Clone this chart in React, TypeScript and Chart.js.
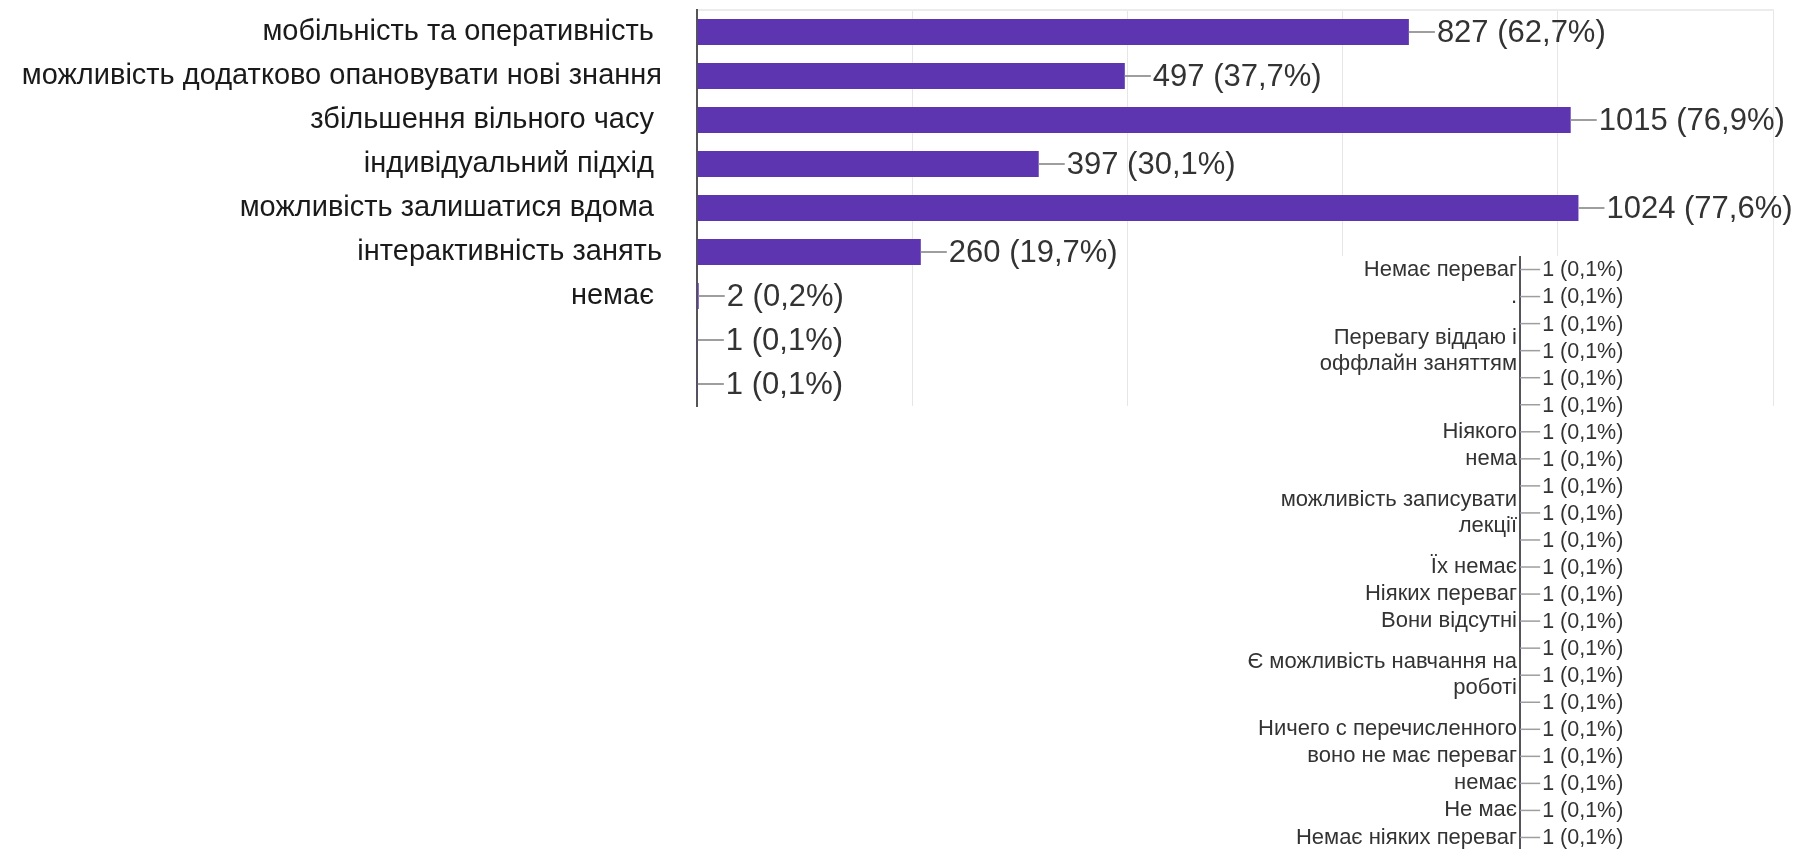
import React, { useEffect, useRef } from "react";
import { Chart, registerables } from "chart.js";

Chart.register(...registerables);

// ---- main chart data ----
const mainCategories = [
  "мобільність та оперативність ",
  "можливість додатково опановувати нові знання",
  "збільшення вільного часу ",
  "індивідуальний підхід ",
  "можливість залишатися вдома ",
  "інтерактивність занять",
  "немає ",
  "",
  "",
];
const mainValues = [827, 497, 1015, 397, 1024, 260, 2, 1, 1];
const mainPercents = [62.7, 37.7, 76.9, 30.1, 77.6, 19.7, 0.2, 0.1, 0.1];
const axisMin = 0;
const axisMax = 1250;
const axisStep = 250;

// ---- continuation (other answers) ----
const otherCategories: (string | string[])[] = [
  "Немає переваг",
  ".",
  "",
  ["Перевагу віддаю і", "оффлайн заняттям"],
  "",
  "",
  "Ніякого",
  "нема",
  "",
  ["можливість записувати", "лекції"],
  "",
  "Їх немає",
  "Ніяких переваг",
  "Вони відсутні",
  "",
  ["Є можливість навчання на", "роботі"],
  "",
  "Ничего с перечисленного",
  "воно не має переваг",
  "немає",
  "Не має",
  "Немає ніяких переваг",
];
const otherValues = [1, 1, 1, 1, 1, 1, 1, 1, 1, 1, 1, 1, 1, 1, 1, 1, 1, 1, 1, 1, 1, 1];
const otherPercents = [
  0.1, 0.1, 0.1, 0.1, 0.1, 0.1, 0.1, 0.1, 0.1, 0.1, 0.1, 0.1, 0.1, 0.1, 0.1, 0.1,
  0.1, 0.1, 0.1, 0.1, 0.1, 0.1,
];

const FONT = "'Liberation Sans', Arial, sans-serif";
const BAR_COLOR = "#5e35b1";

const fmt = (v: number, p: number) => `${v} (${p.toFixed(1).replace(".", ",")}%)`;

function valueLabelPlugin(
  id: string,
  values: number[],
  percents: number[],
  lead: number,
  gap: number,
  fontSize: number,
  leadWidth: number
) {
  return {
    id,
    afterDatasetsDraw(chart: any) {
      const ctx = chart.ctx;
      const meta = chart.getDatasetMeta(0);
      ctx.save();
      meta.data.forEach((bar: any, i: number) => {
        const x = bar.x;
        const y = bar.y;
        ctx.strokeStyle = "#9e9e9e";
        ctx.lineWidth = leadWidth;
        ctx.beginPath();
        ctx.moveTo(x, y);
        ctx.lineTo(x + lead, y);
        ctx.stroke();
        ctx.fillStyle = "#333333";
        ctx.font = `${fontSize}px ${FONT}`;
        ctx.textAlign = "left";
        ctx.textBaseline = "middle";
        ctx.fillText(fmt(values[i], percents[i]), x + lead + gap, y + 1);
      });
      ctx.restore();
    },
  };
}

function fixAxis(width: number) {
  return (s: any) => {
    s.width = width;
    s.paddingTop = 0;
    s.paddingBottom = 0;
  };
}

export default function App() {
  const mainRef = useRef<HTMLCanvasElement | null>(null);
  const otherRef = useRef<HTMLCanvasElement | null>(null);

  useEffect(() => {
    const main = new Chart(mainRef.current as HTMLCanvasElement, {
      type: "bar",
      data: {
        labels: mainCategories,
        datasets: [
          {
            data: mainValues,
            backgroundColor: BAR_COLOR,
            barPercentage: 0.59,
            categoryPercentage: 1,
          },
        ],
      },
      options: {
        indexAxis: "y",
        animation: false,
        responsive: false,
        layout: { padding: { top: 10, bottom: 14, right: 22, left: 0 } },
        plugins: { legend: { display: false }, tooltip: { enabled: false } },
        scales: {
          x: {
            position: "top",
            min: axisMin,
            max: axisMax,
            ticks: { display: false, stepSize: axisStep },
            grid: { color: "#e6e6e6", lineWidth: 1, drawTicks: false },
            border: { display: true, color: "#ececec", width: 2 },
          },
          y: {
            type: "category",
            z: 1,
            afterFit: fixAxis(697),
            ticks: {
              autoSkip: false,
              padding: 35,
              color: "#1a1a1a",
              font: { family: FONT, size: 29 },
            },
            grid: { display: false, drawTicks: false },
            border: { display: true, color: "#555555", width: 2 },
          },
        },
      },
      plugins: [valueLabelPlugin("mainValues", mainValues, mainPercents, 26, 2, 31, 2)],
    } as any);

    const other = new Chart(otherRef.current as HTMLCanvasElement, {
      type: "bar",
      data: {
        labels: otherCategories,
        datasets: [
          {
            data: otherValues,
            backgroundColor: BAR_COLOR,
            barPercentage: 0.6,
            categoryPercentage: 1,
          },
        ],
      },
      options: {
        indexAxis: "y",
        animation: false,
        responsive: false,
        layout: { padding: { top: 0, bottom: 5, right: 0, left: 0 } },
        plugins: { legend: { display: false }, tooltip: { enabled: false } },
        scales: {
          x: {
            display: false,
            min: axisMin,
            max: axisMax,
          },
          y: {
            type: "category",
            z: 1,
            afterFit: fixAxis(380),
            ticks: {
              autoSkip: false,
              padding: 3,
              color: "#333333",
              font: { family: FONT, size: 22 },
            },
            grid: { display: false, drawTicks: false },
            border: { display: true, color: "#555555", width: 2 },
          },
        },
      },
      plugins: [valueLabelPlugin("otherValues", otherValues, otherPercents, 20, 2, 21.5, 1.5)],
    } as any);

    return () => {
      main.destroy();
      other.destroy();
    };
  }, []);

  return (
    <div
      style={{
        position: "fixed",
        left: 0,
        top: 0,
        width: 1795,
        height: 849,
        background: "#ffffff",
        overflow: "hidden",
      }}
    >
      <div style={{ position: "absolute", left: 0, top: 0, width: 1795, height: 420 }}>
        <canvas ref={mainRef} width={1795} height={420} style={{ display: "block" }} />
      </div>
      <div
        style={{
          position: "absolute",
          left: 1140,
          top: 256,
          width: 560,
          height: 600,
          background: "#ffffff",
        }}
      >
        <canvas ref={otherRef} width={560} height={600} style={{ display: "block" }} />
      </div>
    </div>
  );
}
